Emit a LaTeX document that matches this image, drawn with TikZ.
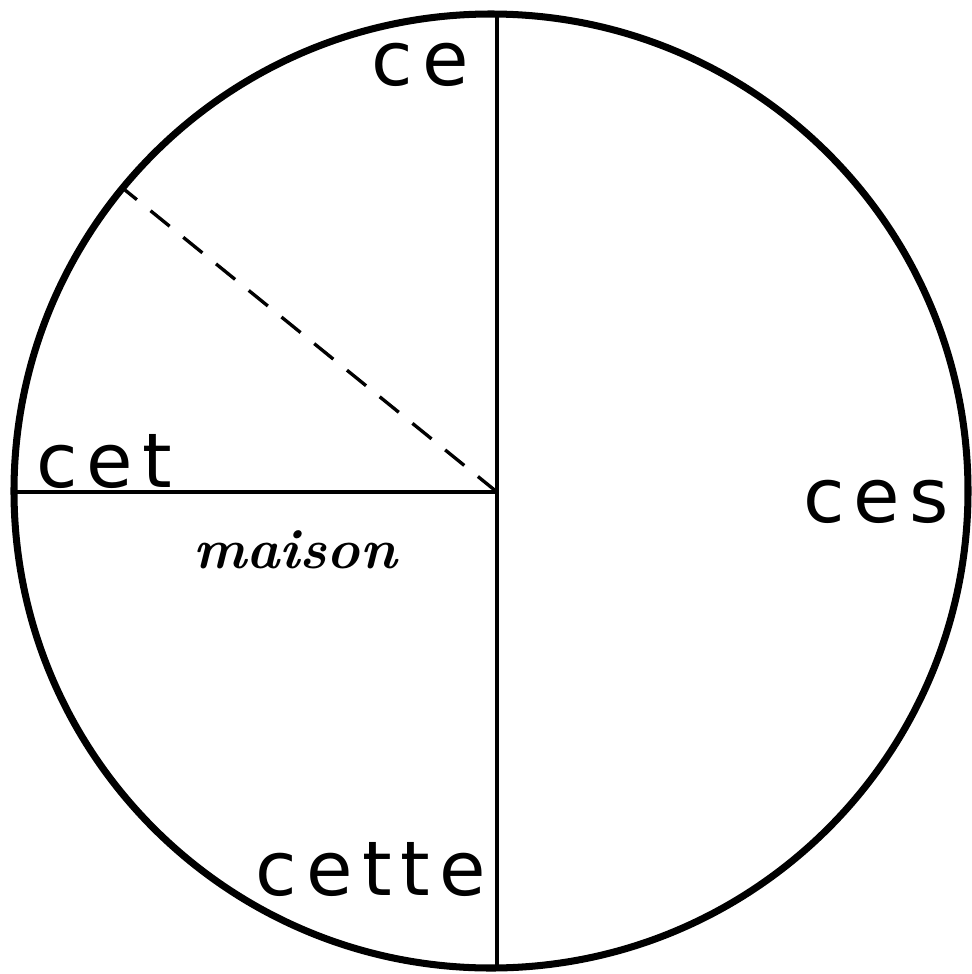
\documentclass[tikz,border=0pt]{standalone}
\usepackage{fontspec}
\newfontfamily\lblfont[LetterSpace=12]{DejaVu Sans}
\begin{document}
\begin{tikzpicture}[x=0.02cm,y=-0.02cm,
  lbl/.style={font=\lblfont\fontsize{43}{50}\selectfont, inner sep=0pt},
  hand/.style={font=\bfseries\itshape\fontsize{32}{40}\selectfont, inner sep=0pt},
  thin line/.style={line width=1.9pt}]
\useasboundingbox (0,0) rectangle (971,974);
\coordinate (c) at (491,491);
\draw[line width=4pt] (c) circle[radius=477];
\coordinate (top) at (497,14.04);
\coordinate (bot) at (497,967.96);
\coordinate (mid) at (497,492);
\coordinate (left) at (14,492);
\coordinate (dend) at (125,190);
\draw[thin line] (top) -- (bot);
\draw[thin line] (left) -- (mid);
\draw[thin line, dash pattern=on 14pt off 10pt] (mid) -- (dend);
\node[lbl] (ce) at (420,65) {ce};
\node[lbl] (cet) at (104,462) {cet};
\node[lbl] (ces) at (876,502) {ces};
\node[lbl] (cette) at (371,870) {cette};
\node[hand] (maison) at (295,550) {maison};
\end{tikzpicture}
\end{document}
